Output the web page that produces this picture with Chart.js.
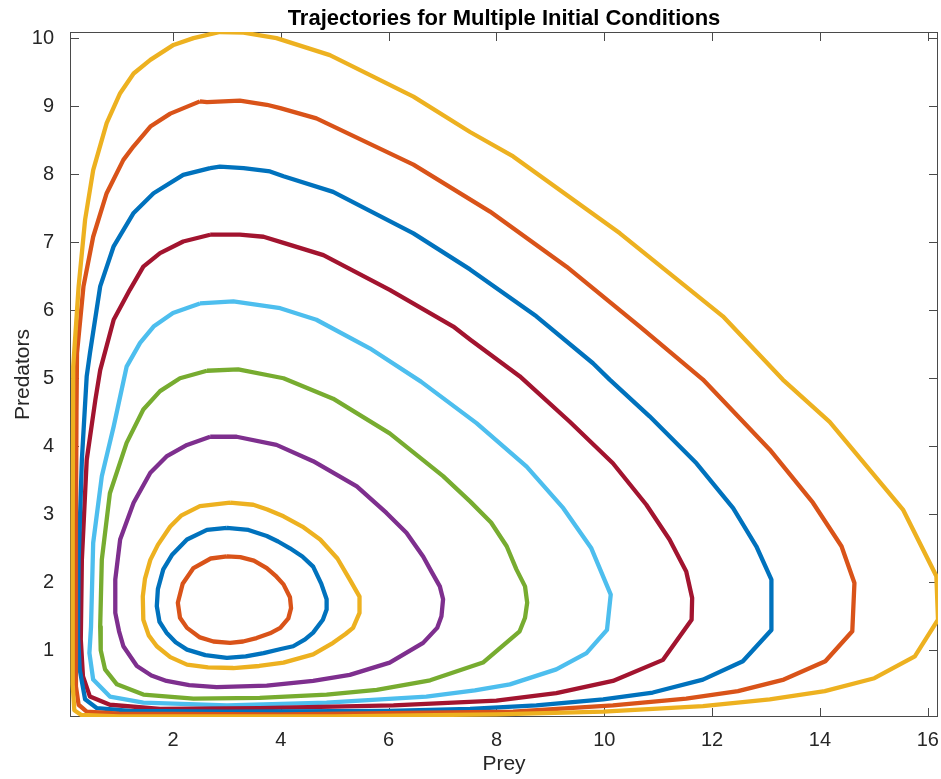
<!DOCTYPE html>
<html>
<head>
<meta charset="utf-8">
<script src="https://cdn.jsdelivr.net/npm/chart.js@4.4.1/dist/chart.umd.min.js"></script>
<style>
  html, body { margin: 0; padding: 0; background: #fff; }
  canvas { display: block; }
</style>
</head>
<body>
<canvas id="phaseChart" width="941" height="779"></canvas>
<script>
// tick labels
const xTicks = [2, 4, 6, 8, 10, 12, 14, 16];
const yTicks = [1, 2, 3, 4, 5, 6, 7, 8, 9, 10];

// orbits as [prey, predators], innermost first
const orbit1 = [[3.0,2.38],[2.7,2.35],[2.38,2.21],[2.18,1.98],[2.09,1.70],[2.13,1.48],[2.26,1.33],[2.5,1.19],[2.75,1.13],[3.06,1.11],[3.3,1.13],[3.55,1.18],[3.8,1.25],[3.99,1.33],[4.14,1.47],[4.19,1.62],[4.17,1.78],[4.05,1.97],[3.9,2.10],[3.74,2.21],[3.5,2.32],[3.25,2.37],[3.0,2.38]];
const orbit2 = [[3.0,2.80],[2.63,2.77],[2.26,2.63],[1.98,2.40],[1.82,2.19],[1.72,1.90],[1.70,1.65],[1.75,1.42],[1.88,1.26],[2.05,1.12],[2.26,1.01],[2.6,0.93],[3.0,0.89],[3.35,0.91],[3.68,0.96],[4.0,1.02],[4.23,1.06],[4.45,1.16],[4.60,1.26],[4.78,1.45],[4.85,1.60],[4.85,1.75],[4.75,1.98],[4.60,2.23],[4.40,2.38],[4.17,2.50],[3.95,2.60],[3.74,2.68],[3.4,2.77],[3.0,2.80]];
const orbit3 = [[3.06,3.17],[2.5,3.12],[2.15,2.98],[1.95,2.82],[1.72,2.55],[1.58,2.33],[1.48,2.05],[1.44,1.79],[1.45,1.45],[1.55,1.22],[1.70,1.06],[1.95,0.90],[2.26,0.79],[2.65,0.75],[3.12,0.74],[3.6,0.77],[4.05,0.82],[4.6,0.94],[4.97,1.11],[5.2,1.24],[5.34,1.33],[5.46,1.55],[5.46,1.79],[5.28,2.04],[5.05,2.35],[4.73,2.63],[4.4,2.82],[4.05,2.97],[3.75,3.07],[3.49,3.14],[3.06,3.17]];
const orbit4 = [[2.69,4.14],[2.26,4.02],[1.88,3.85],[1.58,3.61],[1.27,3.17],[1.02,2.63],[0.93,2.04],[0.93,1.55],[1.0,1.28],[1.08,1.06],[1.33,0.77],[1.6,0.63],[1.88,0.55],[2.3,0.49],[2.81,0.46],[3.74,0.48],[4.60,0.55],[5.28,0.64],[6.02,0.82],[6.64,1.11],[6.9,1.33],[6.98,1.50],[7.01,1.75],[6.95,1.94],[6.80,2.15],[6.64,2.38],[6.33,2.73],[5.96,3.02],[5.41,3.41],[4.6,3.78],[3.92,4.02],[3.18,4.14],[2.69,4.14]];
const orbit5 = [[2.63,5.11],[2.13,5.0],[1.76,4.81],[1.45,4.54],[1.14,4.05],[0.83,3.31],[0.68,2.33],[0.65,1.35],[0.66,1.0],[0.74,0.72],[0.96,0.50],[1.45,0.35],[2.38,0.29],[3.61,0.30],[4.85,0.35],[5.78,0.42],[6.77,0.56],[7.75,0.82],[8.43,1.28],[8.53,1.48],[8.57,1.70],[8.53,1.94],[8.37,2.19],[8.19,2.53],[7.9,2.88],[7.51,3.19],[7.01,3.56],[6.02,4.19],[4.97,4.70],[4.05,5.0],[3.21,5.13],[2.63,5.11]];
const orbit6 = [[2.5,6.10],[2.0,5.96],[1.64,5.76],[1.39,5.52],[1.14,5.17],[0.90,4.29],[0.68,3.56],[0.52,2.58],[0.48,1.35],[0.45,0.96],[0.52,0.57],[0.83,0.32],[1.45,0.23],[3.0,0.19],[4.85,0.23],[6.70,0.32],[7.6,0.41],[8.25,0.50],[9.11,0.72],[9.67,0.96],[10.05,1.30],[10.12,1.82],[9.76,2.50],[9.24,3.09],[8.56,3.70],[7.63,4.34],[6.60,4.95],[5.65,5.44],[4.66,5.86],[3.99,6.03],[3.12,6.13],[2.5,6.10]];
const orbit7 = [[2.69,7.11],[2.19,7.01],[1.76,6.84],[1.45,6.64],[1.20,6.30],[0.90,5.86],[0.65,5.12],[0.56,4.68],[0.40,3.80],[0.31,2.33],[0.29,1.16],[0.33,0.62],[0.46,0.32],[0.83,0.20],[1.76,0.14],[3.61,0.15],[6.09,0.19],[8.0,0.26],[9.11,0.37],[10.16,0.55],[11.09,0.86],[11.62,1.45],[11.63,1.77],[11.52,2.16],[11.21,2.63],[10.78,3.14],[10.16,3.75],[9.36,4.36],[8.43,5.03],[7.51,5.57],[7.20,5.76],[6.02,6.30],[4.79,6.81],[4.05,6.99],[3.68,7.08],[3.24,7.11],[2.69,7.11]];
const orbit8 = [[2.69,8.09],[2.19,7.99],[1.64,7.72],[1.27,7.43],[0.90,6.94],[0.65,6.35],[0.46,5.37],[0.40,5.03],[0.31,3.80],[0.25,2.33],[0.24,1.2],[0.27,0.72],[0.37,0.28],[0.59,0.15],[1.2,0.11],[3.0,0.10],[6.0,0.11],[7.51,0.14],[8.74,0.19],[9.98,0.28],[10.90,0.38],[11.83,0.57],[12.57,0.84],[13.10,1.30],[13.10,2.04],[12.82,2.53],[12.39,3.09],[11.71,3.75],[10.84,4.44],[10.10,4.98],[9.79,5.22],[8.74,5.91],[7.51,6.60],[6.46,7.13],[4.97,7.74],[4.05,7.97],[3.80,8.04],[3.31,8.09],[2.87,8.11],[2.69,8.09]];
const orbit9 = [[2.5,9.07],[1.95,8.89],[1.58,8.70],[1.27,8.41],[1.08,8.21],[0.77,7.72],[0.52,7.08],[0.34,6.35],[0.22,5.37],[0.21,4.5],[0.20,2.82],[0.20,0.47],[0.25,0.20],[0.4,0.10],[1.0,0.07],[4.0,0.06],[8.31,0.10],[10.16,0.19],[11.52,0.29],[12.48,0.40],[13.33,0.57],[14.10,0.84],[14.60,1.28],[14.64,1.99],[14.40,2.53],[13.87,3.17],[13.07,3.95],[11.83,4.98],[10.66,5.76],[9.30,6.64],[7.88,7.45],[6.46,8.14],[4.66,8.82],[3.99,8.97],[3.74,9.02],[3.24,9.08],[2.63,9.06],[2.5,9.07]];
const orbit10 = [[2.87,10.09],[2.38,10.0],[2.01,9.90],[1.58,9.68],[1.27,9.48],[1.02,9.19],[0.77,8.75],[0.52,8.06],[0.37,7.33],[0.25,6.35],[0.15,5.17],[0.14,2.82],[0.14,0.5],[0.17,0.12],[0.3,0.05],[1.0,0.03],[5.0,0.03],[8.0,0.06],[9.98,0.10],[11.83,0.18],[13.07,0.28],[14.09,0.40],[15.01,0.59],[15.76,0.91],[16.19,1.45],[16.16,2.09],[15.54,3.07],[14.18,4.36],[13.31,4.98],[12.20,5.91],[10.29,7.13],[8.31,8.26],[7.51,8.62],[6.46,9.14],[4.91,9.75],[3.92,10.0],[3.31,10.08],[2.87,10.09]];

const orbits = [orbit1, orbit2, orbit3, orbit4, orbit5, orbit6, orbit7, orbit8, orbit9, orbit10];
const lineColors = ["#D95319", "#0072BD", "#EDB120", "#7E2F8E", "#77AC30", "#4DBEEE", "#A2142F", "#0072BD", "#D95319", "#EDB120"];

const fontFamily = "'Liberation Sans', Arial, Helvetica, sans-serif";
const axisColor = "#262626";

// box round the axes with ticks pointing inward on all four sides
const boxTicks = {
    id: "boxTicks",
    beforeDatasetsDraw(chart) {
        const { ctx, chartArea: a, scales: { x, y } } = chart;
        const len = 9;
        ctx.save();
        ctx.strokeStyle = "#4a4a4a";
        ctx.lineWidth = 1;
        ctx.strokeRect(a.left + 0.5, a.top + 0.5, a.right - a.left - 1, a.bottom - a.top - 1);
        ctx.beginPath();
        xTicks.forEach((v) => {
            const px = Math.round(x.getPixelForValue(v)) + 0.5;
            ctx.moveTo(px, a.bottom); ctx.lineTo(px, a.bottom - len);
            ctx.moveTo(px, a.top); ctx.lineTo(px, a.top + len);
        });
        yTicks.forEach((v) => {
            const py = Math.round(y.getPixelForValue(v)) + 0.5;
            ctx.moveTo(a.left, py); ctx.lineTo(a.left + len, py);
            ctx.moveTo(a.right, py); ctx.lineTo(a.right - len, py);
        });
        ctx.stroke();
        ctx.restore();
    }
};

const datasets = orbits.map((pts, i) => ({
    label: "orbit " + (i + 1),
    data: pts.map((p) => ({ x: p[0], y: p[1] })),
    borderColor: lineColors[i],
    backgroundColor: lineColors[i],
    borderWidth: 4.3,
    showLine: true,
    pointRadius: 0,
    tension: 0,
    borderJoinStyle: "round",
    order: orbits.length - i
}));

new Chart(document.getElementById("phaseChart"), {
    type: "scatter",
    data: { datasets: datasets },
    plugins: [boxTicks],
    options: {
        responsive: false,
        animation: false,
        devicePixelRatio: 1,
        layout: { padding: { left: 0, right: 3, top: 0, bottom: 0 } },
        scales: {
            x: {
                type: "linear",
                min: 0.09,
                max: 16.19,
                grid: { display: false },
                border: { display: false },
                ticks: { autoSkip: false, padding: 3, color: axisColor, font: { family: fontFamily, size: 20 } },
                afterBuildTicks: (s) => { s.ticks = xTicks.map((v) => ({ value: v })); },
                afterFit: (s) => { s.height = 62; s.paddingLeft = 0; s.paddingRight = 0; },
                title: { display: true, text: "Prey", color: axisColor, font: { family: fontFamily, size: 21 }, padding: { top: 0, bottom: 2 } }
            },
            y: {
                type: "linear",
                min: 0.02,
                max: 10.09,
                grid: { display: false },
                border: { display: false },
                ticks: { autoSkip: false, padding: 8, color: axisColor, font: { family: fontFamily, size: 20 } },
                afterBuildTicks: (s) => { s.ticks = yTicks.map((v) => ({ value: v })); },
                afterFit: (s) => { s.width = 70; s.paddingTop = 0; s.paddingBottom = 0; },
                title: { display: true, text: "Predators", color: axisColor, font: { family: fontFamily, size: 21 }, padding: { top: 11, bottom: 0 } }
            }
        },
        plugins: {
            legend: { display: false },
            tooltip: { enabled: false },
            title: {
                display: true,
                fullSize: false,
                text: "Trajectories for Multiple Initial Conditions",
                color: "#000000",
                font: { family: fontFamily, size: 22, weight: "bold" },
                padding: { top: 5.6, bottom: 0 }
            }
        }
    }
});
</script>
</body>
</html>
